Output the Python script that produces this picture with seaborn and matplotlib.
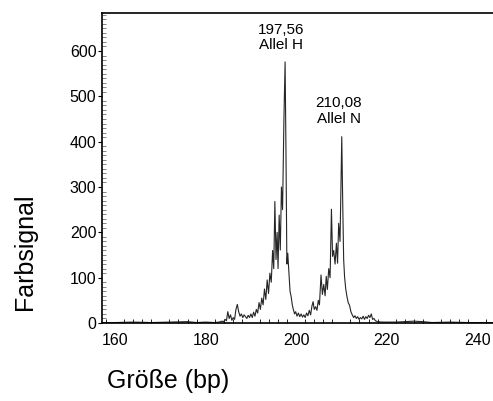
import numpy as np
import pandas as pd
import matplotlib
matplotlib.use("Agg")
import matplotlib.pyplot as plt
from matplotlib.ticker import MultipleLocator, FixedLocator
import seaborn as sns

# trace (size in bp, signal)
size_bp = [157.0, 160.0, 164.0, 168.0, 172.0, 176.0, 178.0, 180.0, 182.0, 183.0, 183.5,
           184.0, 184.3, 184.6, 184.9, 185.2, 185.5, 185.8, 186.1, 186.4, 186.7,
           187.0, 187.3, 187.6, 187.9, 188.2, 188.5, 188.8, 189.1, 189.4, 189.7,
           190.0, 190.3, 190.6, 190.9, 191.2, 191.5, 191.8, 192.1, 192.4, 192.7,
           193.0, 193.3, 193.6, 193.9, 194.2, 194.5, 194.8, 195.05, 195.3, 195.55,
           195.8, 196.0, 196.25, 196.5, 196.75, 197.0, 197.3, 197.56, 197.75, 197.95,
           198.15, 198.4, 198.65, 198.9, 199.15, 199.4, 199.65, 199.9, 200.2, 200.5,
           200.8, 201.1, 201.4, 201.7, 202.0, 202.3, 202.6, 202.9, 203.2, 203.5,
           203.75, 204.0, 204.3, 204.6, 204.9, 205.15, 205.5, 205.8, 206.1, 206.4,
           206.65, 206.9, 207.2, 207.5, 207.8, 208.05, 208.3, 208.6, 208.9, 209.15,
           209.4, 209.7, 210.08, 210.3, 210.5, 210.7, 210.95, 211.2, 211.5, 211.8,
           212.1, 212.4, 212.7, 213.0, 213.3, 213.6, 213.9, 214.2, 214.5, 214.8,
           215.1, 215.4, 215.7, 216.0, 216.3, 216.6, 216.9, 217.2, 217.5, 218.0,
           219.0, 222.0, 226.0, 228.0, 230.0, 234.0, 238.0, 243.5]
signal = [1, 1, 2, 1, 2, 3, 1, 2, 1, 2, 4,
          3, 8, 5, 25, 10, 18, 6, 12, 8, 30,
          41, 25, 15, 20, 12, 18, 14, 10, 17, 12,
          20, 12, 24, 15, 30, 22, 45, 30, 55, 40,
          75, 52, 95, 65, 110, 90, 160, 120, 268, 140,
          200, 120, 238, 161, 300, 250, 450, 576, 380, 130,
          154, 110, 70, 58, 40, 29, 20, 25, 15, 22,
          14, 20, 13, 18, 12, 22, 16, 28, 18, 38,
          47, 30, 36, 28, 50, 40, 106, 63, 85, 60,
          103, 74, 120, 100, 251, 147, 160, 130, 176, 132,
          220, 180, 411, 260, 140, 102, 76, 60, 45, 39,
          25, 18, 12, 16, 10, 14, 8, 12, 9, 15,
          8, 14, 10, 17, 12, 20, 8, 10, 5, 3,
          2, 2, 4, 3, 1, 2, 1, 1]

peak_text = ["197,56\nAllel H", "210,08\nAllel N"]
label_xy = [(196.7, 630), (209.4, 468)]

df = pd.DataFrame({"size": size_bp, "signal": signal})

sns.set_theme(style="white")
plt.rcParams["font.family"] = ["Liberation Sans", "DejaVu Sans"]
plt.rcParams["text.color"] = "black"

fig = plt.figure(figsize=(4.93, 4.01), dpi=100)
ax = fig.add_axes([102 / 493, 78 / 401, 1 - 102 / 493, (323 - 12.5) / 401])

sns.lineplot(data=df, x="size", y="signal", ax=ax, color="#262626",
             linewidth=0.8, estimator=None, sort=False)

ax.set_xlim(157.1, 243.5)
ax.set_ylim(0, 685)
ax.set_xlabel("")
ax.set_ylabel("")

ax.xaxis.set_major_locator(MultipleLocator(10))
ax.xaxis.set_major_formatter(plt.FuncFormatter(lambda v, p: f"{v:.0f}" if round(v) % 20 == 0 else ""))
ax.xaxis.set_minor_locator(MultipleLocator(2))
ax.yaxis.set_major_locator(FixedLocator([0, 100, 200, 300, 400, 500, 600]))
ax.yaxis.set_minor_locator(MultipleLocator(10))

ax.tick_params(axis="x", which="major", direction="inout", length=8, width=0.8,
               labelsize=11.5, pad=3, colors="black")
ax.tick_params(axis="x", which="minor", direction="in", length=3, width=0.6,
               colors="black", bottom=True)
ax.tick_params(axis="y", which="major", direction="out", length=3, width=0.8,
               labelsize=11.5, pad=1, colors="black", left=True)
ax.tick_params(axis="y", which="minor", direction="in", length=3, width=0.5,
               colors="#555555", left=True)

for side in ["left", "bottom", "top"]:
    ax.spines[side].set_color("black")
    ax.spines[side].set_linewidth(1.2)
ax.spines["right"].set_visible(False)

for (tx, ty), t in zip(label_xy, peak_text):
    ax.text(tx, ty, t, ha="center", va="center", fontsize=11, linespacing=1.15,
            color="black")

fig.text(25 / 493, 1 - 252 / 401, "Farbsignal", rotation=90, ha="center",
         va="center", fontsize=18, color="black")
fig.text(168 / 493, 1 - 381 / 401, "Größe (bp)", ha="center", va="center",
         fontsize=18, color="black")

fig.savefig("out.png", dpi=100, facecolor="white")
